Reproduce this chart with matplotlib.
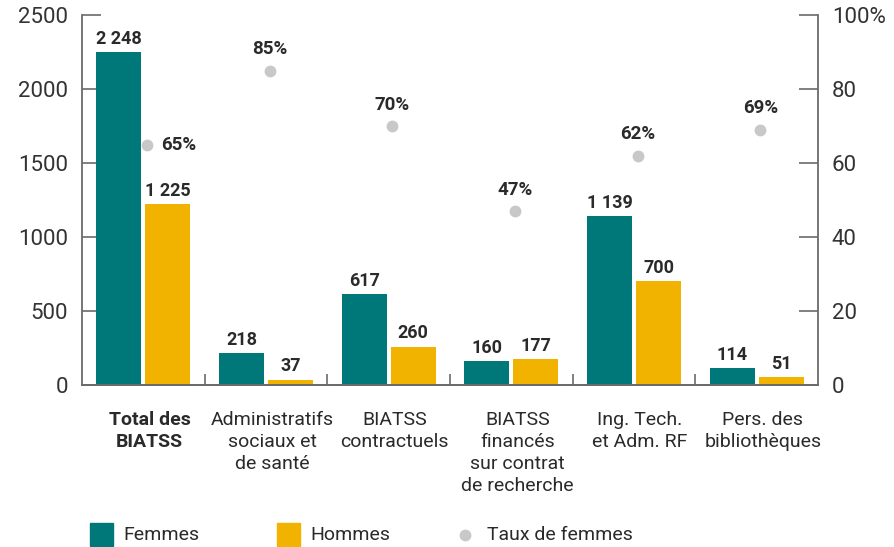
import numpy as np
import matplotlib.pyplot as plt
from matplotlib.patches import Rectangle
from matplotlib.lines import Line2D
from matplotlib.transforms import blended_transform_factory

# data
categories = ["Total des\nBIATSS", "Administratifs\nsociaux et\nde santé", "BIATSS\ncontractuels",
              "BIATSS\nfinancés\nsur contrat\nde recherche", "Ing. Tech.\net Adm. RF",
              "Pers. des\nbibliothèques"]
femmes = [2248, 218, 617, 160, 1139, 114]
hommes = [1225, 37, 260, 177, 700, 51]
taux = [65, 85, 70, 47, 62, 69]
left_ticks = [0, 500, 1000, 1500, 2000, 2500]
right_ticks = [0, 20, 40, 60, 80, 100]
right_labels = ["0", "20", "40", "60", "80", "100%"]

teal = "#00787a"
gold = "#f2b200"
grey_dot = "#c8c8c8"
spine_col = "#6b6b6b"
txt = "#2a2a2a"

plt.rcParams['font.family'] = ['Roboto', 'DejaVu Sans']


def fmt_fr(v):
    return f"{v:,}".replace(",", " ")


fig = plt.figure(figsize=(8.95, 5.47), dpi=100)
ax = fig.add_axes([82 / 895, 1 - 385 / 547, 736 / 895, 370 / 547])
ax2 = ax.twinx()

x = np.arange(len(categories))
w = 0.367
ax.bar(x - 0.2, femmes, w, color=teal, zorder=2)
ax.bar(x + 0.2, hommes, w, color=gold, zorder=2)

for i in range(len(categories)):
    ax.annotate(fmt_fr(femmes[i]), (x[i] - 0.2, femmes[i]), xytext=(0, 3), textcoords="offset points",
                ha="center", va="bottom", fontsize=13, fontweight="bold", color=txt)
    ax.annotate(fmt_fr(hommes[i]), (x[i] + 0.2, hommes[i]), xytext=(0, 3), textcoords="offset points",
                ha="center", va="bottom", fontsize=13, fontweight="bold", color=txt)

ax2.plot(x + 0.03, taux, "o", color=grey_dot, markersize=7.5, zorder=3)
for i in range(len(categories)):
    if i == 0:
        ax2.annotate(f"{taux[i]}%", (x[i] + 0.03, taux[i]), xytext=(10, 0), textcoords="offset points",
                     ha="left", va="center", fontsize=13.5, fontweight="bold", color=txt)
    else:
        ax2.annotate(f"{taux[i]}%", (x[i] + 0.03, taux[i]), xytext=(0, 9), textcoords="offset points",
                     ha="center", va="bottom", fontsize=13.5, fontweight="bold", color=txt)

ax.set_xlim(-0.5, len(categories) - 0.5)
ax.set_ylim(0, 2500)
ax2.set_ylim(0, 100)

ax.set_yticks(left_ticks)
ax.set_yticklabels([str(t) for t in left_ticks])
ax2.set_yticks(right_ticks)
ax2.set_yticklabels(right_labels)

for a in (ax, ax2):
    a.spines["top"].set_visible(False)
    for s in ("left", "right", "bottom"):
        a.spines[s].set_color(spine_col)
        a.spines[s].set_linewidth(1.3)
    a.tick_params(axis="y", direction="in", length=14, width=1.2, color=spine_col,
                  labelsize=16, labelcolor="#333333", pad=10)
ax.spines["right"].set_visible(False)
ax2.spines["left"].set_visible(False)

# category boundary ticks on the x axis
ax.set_xticks(np.arange(0.5, len(categories) - 1, 1))
ax.set_xticklabels([])
ax.tick_params(axis="x", direction="in", length=8, width=1.2, color=spine_col)

trans = blended_transform_factory(ax.transData, fig.transFigure)
for i, c in enumerate(categories):
    ax.text(x[i] + 0.05, 1 - 411 / 547, c, transform=trans, ha="center", va="top", fontsize=14,
            color=txt, linespacing=1.28, fontweight="bold" if i == 0 else "normal")

# legend drawn by hand
sq = 23
for x0, col, label in [(90, teal, "Femmes"), (277, gold, "Hommes")]:
    fig.add_artist(Rectangle((x0 / 895, 1 - 546 / 547), sq / 895, sq / 547,
                             transform=fig.transFigure, color=col))
    fig.text((x0 + 33) / 895, 1 - 535 / 547, label, ha="left", va="center", fontsize=14,
             color=txt)
fig.add_artist(Line2D([465 / 895], [1 - 535 / 547], marker="o", color=grey_dot, markersize=7.5,
                      transform=fig.transFigure, linestyle="none"))
fig.text(487 / 895, 1 - 535 / 547, "Taux de femmes", ha="left", va="center", fontsize=14,
         color=txt)

fig.savefig("out.png", dpi=100)
